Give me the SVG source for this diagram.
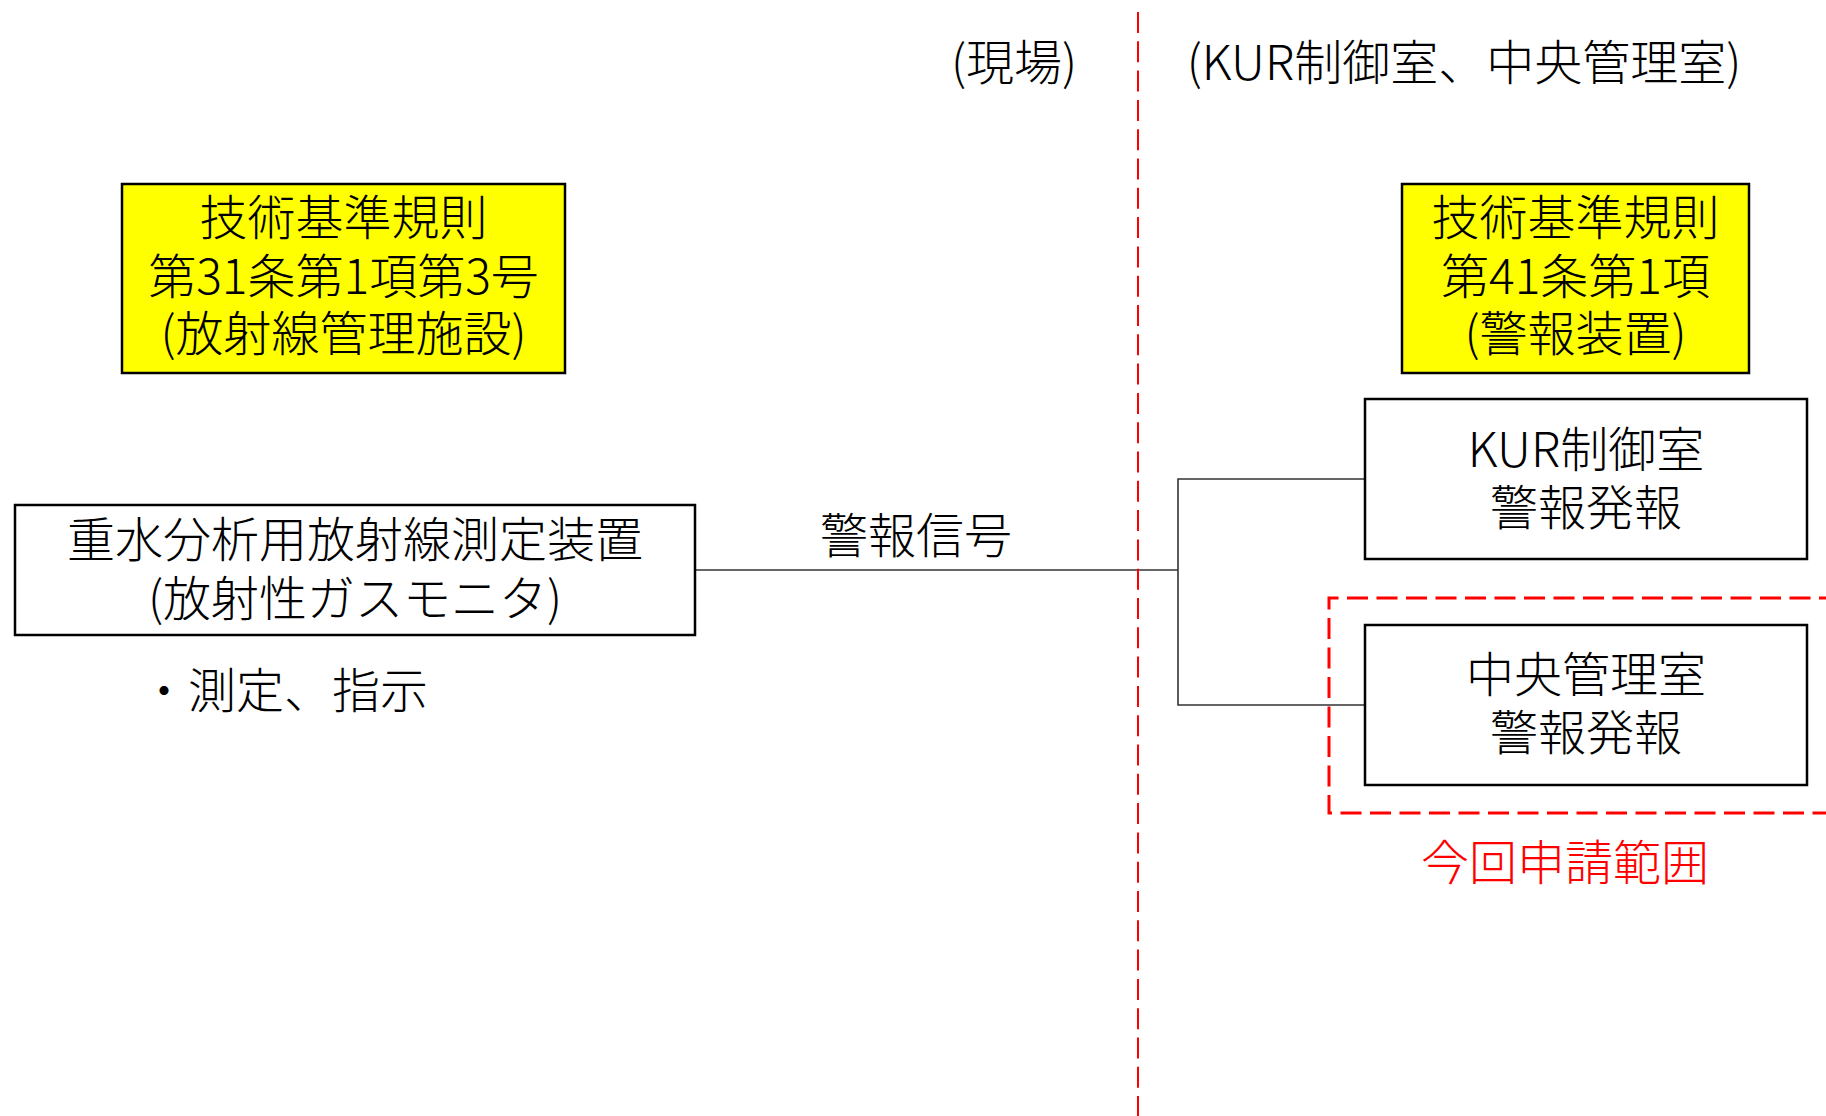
<svg xmlns="http://www.w3.org/2000/svg" width="1826" height="1116" viewBox="0 0 1826 1116">
  <style>
    text { font-family: "Noto Sans CJK JP", "Noto Sans", sans-serif; font-size: 48px; font-weight: 300; fill: #000; }
    .c { text-anchor: middle; }
    .red { fill: #ff0000; }
    .box { fill: #ffffff; stroke: #000; stroke-width: 2.5; }
    .ybox { fill: #ffff00; stroke: #000; stroke-width: 2.5; }
    .conn { fill: none; stroke: #333; stroke-width: 1.6; }
    .divider { fill: none; stroke: #ff0000; stroke-width: 2; stroke-dasharray: 21 8.3; }
    .scope { fill: none; stroke: #ff0000; stroke-width: 3; stroke-dasharray: 21 8.5; }
  </style>
  <rect width="1826" height="1116" fill="#ffffff"/>

  <g id="connectors">
    <line class="conn" x1="695" y1="570" x2="1178" y2="570"/>
    <polyline class="conn" points="1365,479 1178,479 1178,705 1365,705"/>
  </g>

  <g id="divider">
    <line class="divider" x1="1138" y1="12" x2="1138" y2="1116"/>
  </g>

  <g id="label-site">
    <text class="c" x="1014" y="80">(現場)</text>
  </g>
  <g id="label-control">
    <text class="c" x="1464" y="80">(KUR制御室、中央管理室)</text>
  </g>

  <g id="rule-31">
    <rect class="ybox" x="122" y="184" width="443" height="189"/>
    <text class="c" x="343.5" y="235">技術基準規則</text>
    <text class="c" x="343.5" y="294">第31条第1項第3号</text>
    <text class="c" x="343.5" y="351">(放射線管理施設)</text>
  </g>

  <g id="rule-41">
    <rect class="ybox" x="1402" y="184" width="347" height="189"/>
    <text class="c" x="1575.5" y="235">技術基準規則</text>
    <text class="c" x="1575.5" y="294">第41条第1項</text>
    <text class="c" x="1575.5" y="351">(警報装置)</text>
  </g>

  <g id="monitor">
    <rect class="box" x="15" y="505" width="680" height="130"/>
    <text class="c" x="355" y="557">重水分析用放射線測定装置</text>
    <text class="c" x="355" y="616">(放射性ガスモニタ)</text>
  </g>

  <g id="monitor-note">
    <text x="140" y="708">・測定、指示</text>
  </g>

  <g id="signal-label">
    <text class="c" x="916" y="553">警報信号</text>
  </g>

  <g id="kur-alarm">
    <rect class="box" x="1365" y="399" width="442" height="160"/>
    <text class="c" x="1586" y="467">KUR制御室</text>
    <text class="c" x="1586" y="525">警報発報</text>
  </g>

  <g id="scope">
    <path class="scope" d="M1840 598 H1329 V813 H1840"/>
    <text class="c red" x="1565" y="880">今回申請範囲</text>
  </g>

  <g id="central-alarm">
    <rect class="box" x="1365" y="625" width="442" height="160"/>
    <text class="c" x="1586" y="692">中央管理室</text>
    <text class="c" x="1586" y="750">警報発報</text>
  </g>
</svg>
